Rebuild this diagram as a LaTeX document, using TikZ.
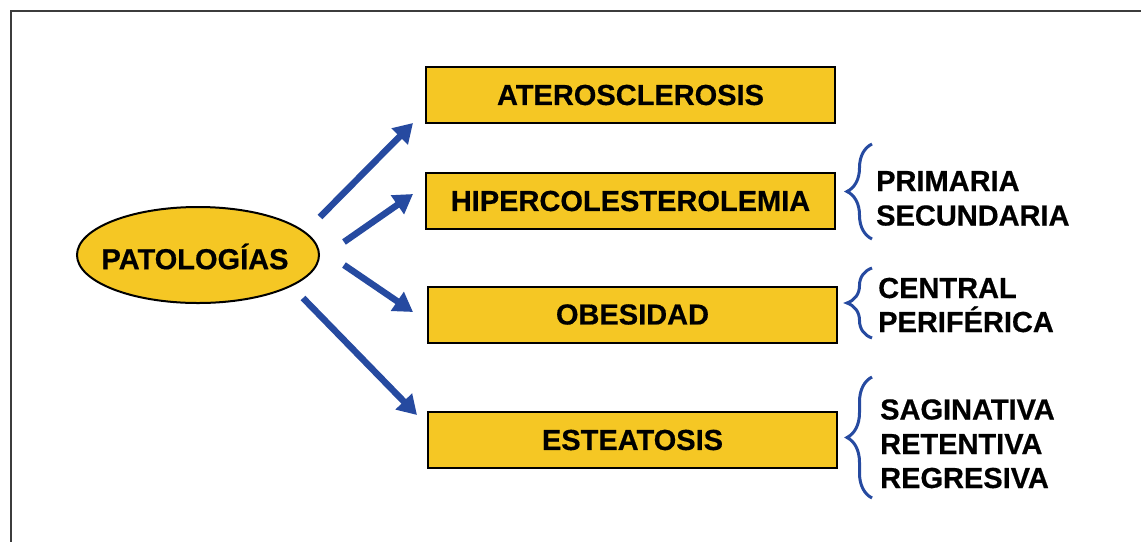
\documentclass[tikz,border=0pt]{standalone}
\usepackage{fontspec}
\setmainfont[BoldFeatures={FakeBold=0.5}]{Liberation Sans}
\usetikzlibrary{arrows.meta,decorations.pathreplacing,shapes.geometric}
\definecolor{ylw}{RGB}{245,199,36}
\definecolor{blu}{RGB}{38,74,160}
\definecolor{frm}{RGB}{60,60,60}
\tikzset{
  txt/.style={font=\fontsize{29}{34}\selectfont\bfseries},
  box/.style={txt,draw=black,line width=2pt,fill=ylw,rectangle,minimum width=409pt,minimum height=56pt,inner sep=0pt},
  ell/.style={draw=black,line width=2pt,fill=ylw,ellipse,minimum width=242pt,minimum height=96pt,inner sep=0pt},
  arr/.style={draw=blu,line width=6.5pt,-{Triangle[width=22pt,length=19pt]}},
  brc/.style={draw=blu,line width=3pt,decorate,decoration={brace,amplitude=25pt,aspect=0.5}},
  lbl/.style={txt,anchor=base west,inner sep=0pt}
}
\begin{document}
\begin{tikzpicture}[x=1pt,y=-1pt]
\useasboundingbox (0,0) rectangle (1141,542);
\draw[frm,line width=2pt] (1141,11) -- (11,11) -- (11,542);
\node[ell] (pat) at (198,255) {};
\node[txt,inner sep=0pt] (patt) at ([shift={(-3,1.5)}]pat.center) {PATOLOGÍAS};
\node[box] (ath) at (630.5,95) {ATEROSCLEROSIS};
\node[box] (hip) at (630.5,201) {HIPERCOLESTEROLEMIA};
\node[box] (obe) at (632.5,314.5) {OBESIDAD};
\node[box] (est) at (632.5,440) {ESTEATOSIS};
\draw[arr] ([shift={(0,-38)}]pat.east) -- ([shift={(-12,-1)}]ath.south west);
\draw[arr] ([shift={(24,-13)}]pat.east) -- ([shift={(-12,-7)}]hip.west);
\draw[arr] ([shift={(24,10)}]pat.east) -- ([shift={(-14,-2.5)}]obe.west);
\draw[arr] ([shift={(-17,43)}]pat.east) -- ([shift={(-10,4)}]est.north west);
\coordinate (b1t) at (872,144);
\coordinate (b1b) at (872,239);
\coordinate (b2t) at (872,268);
\coordinate (b2b) at (872,338);
\coordinate (b3t) at (872,377);
\coordinate (b3b) at (872,498);
\draw[brc] (b1b) -- (b1t);
\draw[brc] (b2b) -- (b2t);
\draw[brc] (b3b) -- (b3t);
\node[lbl] (l1a) at (876,191) {PRIMARIA};
\node[lbl] (l1b) at (876,225.5) {SECUNDARIA};
\node[lbl] (l2a) at (878,298) {CENTRAL};
\node[lbl] (l2b) at (878,332) {PERIFÉRICA};
\node[lbl] (l3a) at (880,419.5) {SAGINATIVA};
\node[lbl] (l3b) at (880,454) {RETENTIVA};
\node[lbl] (l3c) at (880,488) {REGRESIVA};
\end{tikzpicture}
\end{document}
